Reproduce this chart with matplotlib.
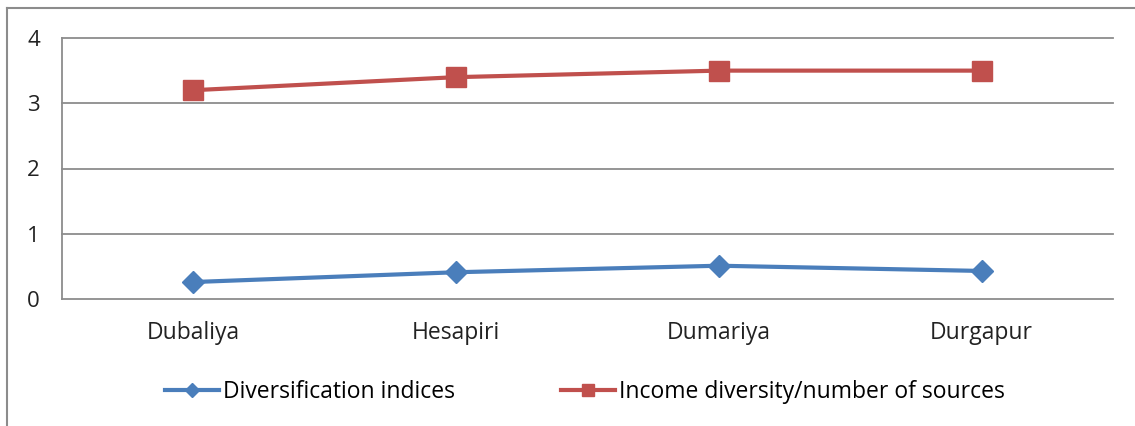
import matplotlib.pyplot as plt
from matplotlib.lines import Line2D

plt.rcParams['font.family'] = ['Open Sans', 'DejaVu Sans']

villages = ["Dubaliya", "Hesapiri", "Dumariya", "Durgapur"]
diversification = [0.26, 0.41, 0.51, 0.43]
income_sources = [3.2, 3.4, 3.5, 3.5]

blue = "#4a7ebb"
red = "#c0504d"

fig = plt.figure(figsize=(11.35, 4.26), dpi=100)
ax = fig.add_axes([62 / 1135, 1 - 299 / 426, 1051 / 1135, 261 / 426])

x = range(len(villages))
ax.plot(x, diversification, color=blue, lw=3, marker="D", ms=11,
        label="Diversification indices", zorder=3)
ax.plot(x, income_sources, color=red, lw=3, marker="s", ms=14,
        label="Income diversity/number of sources", zorder=3)

ax.set_xlim(-0.5, 3.5)
ax.set_ylim(0, 4)
ax.set_yticks([0, 1, 2, 3, 4])
ax.set_xticks(list(x))
ax.set_xticklabels(villages, fontsize=16.5)
ax.tick_params(axis="both", length=0, colors="#222222")
ax.tick_params(axis="y", pad=16, labelsize=16)
ax.tick_params(axis="x", pad=16)
ax.grid(axis="y", color="#8c8c8c", lw=1.3, clip_on=False)
ax.set_axisbelow(True)
for side in ("top", "right", "bottom"):
    ax.spines[side].set_visible(False)
ax.spines["left"].set_color("#8c8c8c")
ax.spines["left"].set_linewidth(1.3)

# outer chart frame
fig.add_artist(Line2D([7 / 1135, 7 / 1135], [0, 1 - 8 / 426], color="#8c8c8c", lw=1.5))
fig.add_artist(Line2D([7 / 1135, 1], [1 - 8 / 426, 1 - 8 / 426], color="#8c8c8c", lw=1.5))

handles = [
    Line2D([], [], color=blue, lw=3, marker="D", ms=7),
    Line2D([], [], color=red, lw=3, marker="s", ms=9),
]
fig.legend(handles, ["Diversification indices", "Income diversity/number of sources"],
           loc="center", bbox_to_anchor=(585 / 1135, 1 - 392 / 426), ncol=2,
           frameon=False, fontsize=16.5, handlelength=2.36, handletextpad=0.2,
           columnspacing=4.6)

fig.savefig("out.png", dpi=100, facecolor="white")
